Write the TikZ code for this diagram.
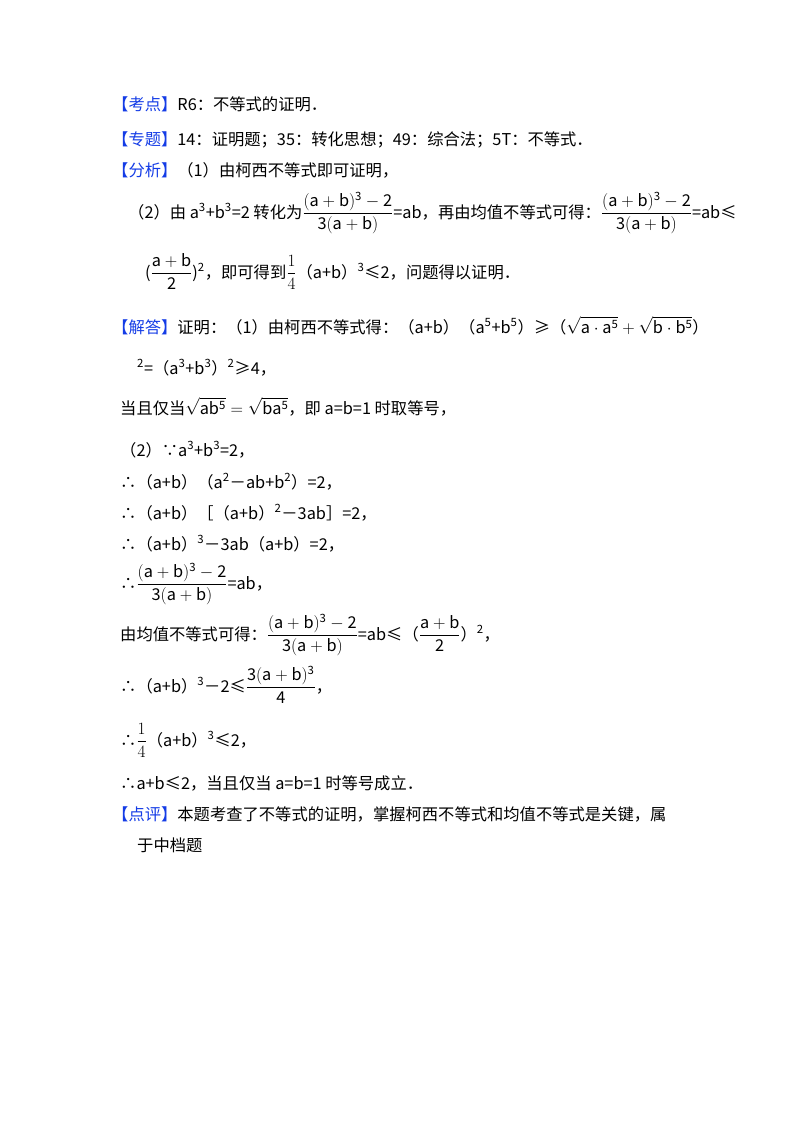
\documentclass[tikz,border=0pt]{standalone}
\usepackage{fontspec}
\setmainfont{Noto Sans CJK SC}
\usepackage{amsmath}
\definecolor{lab}{RGB}{20,60,230}
\newcommand{\lb}[1]{\textcolor{lab}{【#1】}}
\newcommand{\su}[1]{\textsuperscript{#1}}
\newcommand{\fr}[2]{$\dfrac{\mathrm{#1}}{\mathrm{#2}}$}
\begin{document}
\begin{tikzpicture}[x=1pt,y=-1pt,every node/.style={anchor=base west,inner sep=0pt,font=\fontsize{16.3}{19}\selectfont}]
\useasboundingbox (0,0) rectangle (800,1132);
\node (l1) at (112,110) {\lb{考点}R6：不等式的证明．};
\node (l2) at (112,145) {\lb{专题}14：证明题；35：转化思想；49：综合法；5T：不等式．};
\node (l3) at (112,176) {\lb{分析}（1）由柯西不等式即可证明，};
\node (l4) at (128,218) {（2）由 a\su{3}+b\su{3}=2 转化为\fr{(a+b)^3-2}{3(a+b)}=ab，再由均值不等式可得：\fr{(a+b)^3-2}{3(a+b)}=ab≤};
\node (l5) at (145,278) {(\fr{a+b}{2})\su{2}，即可得到$\dfrac14$（a+b）\su{3}≤2，问题得以证明．};
\node (l6) at (112,333) {\lb{解答}证明：（1）由柯西不等式得：（a+b）（a\su{5}+b\su{5}）≥（$\sqrt{\mathrm{a\cdot a^5}}+\sqrt{\mathrm{b\cdot b^5}}$）};
\node (l7) at (137,374) {\su{2}=（a\su{3}+b\su{3}）\su{2}≥4，};
\node (l8) at (120,414) {当且仅当$\sqrt{\mathrm{ab^5}}=\sqrt{\mathrm{ba^5}}$，即 a=b=1 时取等号，};
\node (l9) at (120,456) {（2）∵a\su{3}+b\su{3}=2，};
\node (l10) at (120,488) {∴（a+b）（a\su{2}－ab+b\su{2}）=2，};
\node (l11) at (120,519) {∴（a+b）［（a+b）\su{2}－3ab］=2，};
\node (l12) at (120,550) {∴（a+b）\su{3}－3ab（a+b）=2，};
\node (l13) at (120,589) {∴\fr{(a+b)^3-2}{3(a+b)}=ab，};
\node (l14) at (120,640) {由均值不等式可得：\fr{(a+b)^3-2}{3(a+b)}=ab≤（\fr{a+b}{2}）\su{2}，};
\node (l15) at (120,692) {∴（a+b）\su{3}－2≤\fr{3(a+b)^3}{4}，};
\node (l16) at (120,746) {∴$\dfrac14$（a+b）\su{3}≤2，};
\node (l17) at (120,789) {∴a+b≤2，当且仅当 a=b=1 时等号成立．};
\node (l18) at (112,820) {\lb{点评}本题考查了不等式的证明，掌握柯西不等式和均值不等式是关键，属};
\node (l19) at (137,851) {于中档题};
\end{tikzpicture}
\end{document}
